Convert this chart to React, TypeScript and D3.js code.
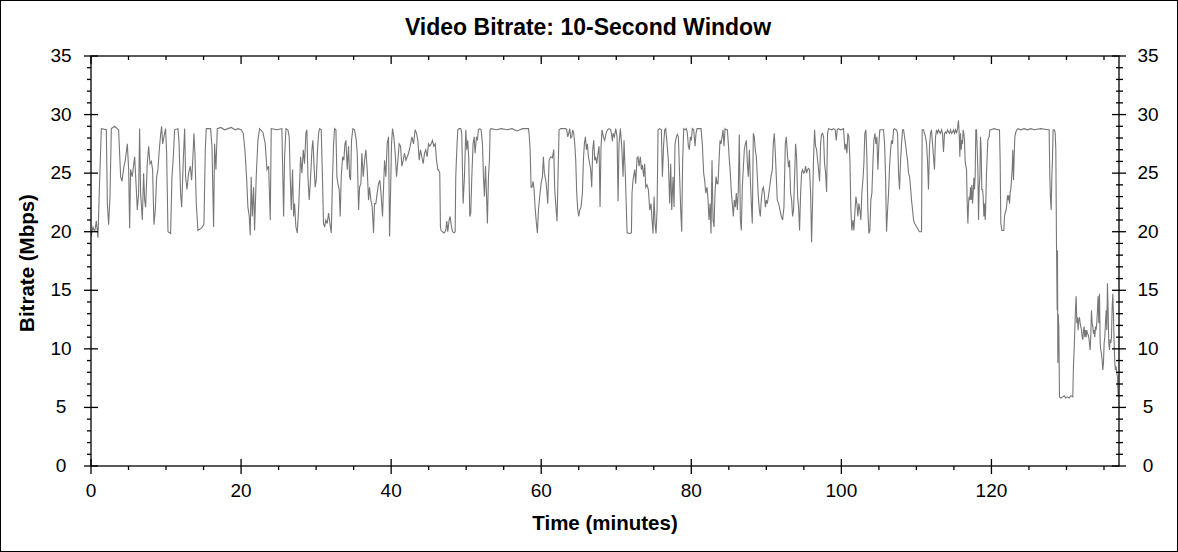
import React, { useEffect, useRef } from "react";
import * as d3 from "d3";

// Axis labels
const xTickValues = [0, 20, 40, 60, 80, 100, 120];
const yTickValues = [0, 5, 10, 15, 20, 25, 30, 35];

// 10-second window bitrate samples: [minutes, Mbps]
const part1: [number, number][] = [
  [0, 19.6], [0.27, 20.4], [0.49, 20.0], [0.71, 20.9], [0.93, 19.5], [1.15, 24.4], [1.38, 28.8],
  [2.04, 28.7], [2.18, 22.4], [2.35, 20.6], [2.53, 23.0], [2.71, 28.8], [3.15, 29.0], [3.68, 28.7],
  [3.95, 24.7], [4.13, 24.3], [4.35, 25.4], [4.57, 26.1], [4.84, 27.5], [5.02, 25.3], [5.15, 20.3],
  [5.28, 25.3], [5.5, 24.7], [5.68, 25.7], [5.82, 26.4], [6.04, 23.6], [6.17, 21.85], [6.35, 23.3],
  [6.48, 28.8], [6.61, 23.3], [6.84, 21.0], [7.01, 25.0], [7.15, 22.7], [7.28, 22.1], [7.5, 25.8],
  [7.68, 27.3], [7.86, 25.8], [8.04, 26.0], [8.21, 25.3], [8.39, 20.6], [8.57, 21.85], [8.75, 24.7],
  [8.92, 25.3], [9.1, 27.0], [9.28, 28.3], [9.41, 29.0], [9.55, 27.5], [9.72, 28.1], [9.94, 28.8],
  [10.08, 26.7], [10.26, 20.0], [10.61, 19.85], [10.79, 24.7], [10.97, 26.4], [11.14, 28.7],
  [11.59, 28.8], [11.72, 27.8], [11.94, 23.3], [12.08, 22.1], [12.3, 26.1], [12.48, 28.8],
  [12.61, 24.7], [12.79, 23.6], [13.01, 25.0], [13.23, 25.6], [13.41, 24.4], [13.54, 25.8],
  [13.72, 28.4], [13.85, 26.7], [14.03, 22.4], [14.25, 20.1], [14.7, 20.3], [15.05, 20.6],
  [15.23, 27.0], [15.36, 28.8], [15.94, 28.8], [16.12, 27.3], [16.34, 20.4], [16.47, 27.5],
  [16.65, 25.3], [16.83, 28.8], [17.3, 28.9], [17.8, 28.7], [18.25, 28.8], [18.7, 28.9], [19.2, 28.7],
  [19.6, 28.8], [20.02, 28.7], [20.29, 28.4], [20.51, 27.0], [20.73, 24.7], [20.91, 22.1],
  [21.09, 21.3], [21.22, 19.7], [21.35, 24.7], [21.49, 21.3], [21.67, 23.8], [21.8, 20.1],
  [22.02, 24.7], [22.24, 27.8], [22.46, 28.8], [22.91, 28.5],
];

const part2: [number, number][] = [
  [23.22, 27.5], [23.45, 25.3], [23.67, 25.6], [23.89, 21.0], [24.02, 28.8], [24.78, 28.7],
  [25.44, 28.8], [25.67, 21.3], [25.8, 26.4], [25.98, 28.8], [26.24, 28.7], [26.42, 28.1],
  [26.55, 24.7], [26.69, 21.85], [26.86, 25.3], [27.0, 21.3], [27.13, 22.4], [27.31, 20.4],
  [27.49, 19.9], [27.66, 21.85], [27.8, 24.1], [27.93, 26.4], [28.11, 25.0], [28.29, 27.0],
  [28.46, 25.8], [28.64, 28.4], [28.77, 28.7], [28.91, 24.7], [29.08, 22.7], [29.22, 24.1],
  [29.44, 27.0], [29.57, 27.8], [29.75, 25.3], [29.88, 23.8], [30.02, 24.4], [30.19, 27.0],
  [30.33, 28.4], [30.46, 28.8], [30.68, 28.7], [30.82, 25.3], [30.99, 20.7], [31.13, 20.4],
  [31.3, 21.0], [31.48, 20.7], [31.66, 21.6], [31.84, 20.7], [32.02, 19.9], [32.19, 24.7],
  [32.33, 27.5], [32.46, 28.8], [32.64, 28.7], [32.77, 24.7], [32.9, 24.1], [33.08, 23.6],
  [33.21, 21.3], [33.35, 24.7], [33.53, 26.4], [33.7, 26.1], [33.84, 27.5], [33.97, 27.8],
  [34.15, 25.3], [34.32, 27.3], [34.46, 24.7], [34.59, 24.4], [34.72, 27.8], [34.9, 28.8],
  [35.12, 28.7], [35.35, 27.8], [35.48, 26.7], [35.66, 21.85], [35.79, 23.8], [35.97, 24.1],
  [36.1, 26.7], [36.28, 24.7], [36.46, 26.1], [36.63, 27.0], [36.81, 25.3], [36.99, 22.7],
  [37.12, 23.8], [37.3, 22.7], [37.48, 22.1], [37.65, 19.9], [37.79, 22.4], [37.96, 22.4],
  [38.14, 23.3], [38.32, 24.1], [38.5, 24.4], [38.68, 23.0], [38.85, 21.3], [38.99, 23.8],
  [39.12, 26.1], [39.3, 24.7], [39.47, 27.5], [39.65, 28.1], [39.79, 19.6], [39.92, 23.3],
  [40.05, 27.5], [40.18, 28.8], [40.36, 28.1], [40.54, 26.7], [40.72, 24.7], [40.9, 26.1],
  [41.07, 27.5], [41.25, 27.3], [41.43, 25.6], [41.61, 26.1], [41.78, 26.7], [41.96, 26.1],
  [42.14, 26.4], [42.32, 26.7], [42.54, 27.3], [42.76, 28.1], [42.98, 27.5], [43.2, 28.7],
  [43.38, 28.4], [43.56, 27.8], [43.74, 26.1], [43.91, 27.0], [44.09, 26.4], [44.27, 25.8],
  [44.45, 26.7], [44.62, 27.0], [44.8, 26.4], [44.98, 27.5], [45.16, 27.3], [45.34, 27.5],
  [45.51, 27.8], [45.69, 27.3], [45.87, 27.5], [46.05, 26.1], [46.22, 25.3],
];

const part3: [number, number][] = [
  [46.31, 25.3], [46.48, 25.0], [46.57, 20.4], [46.66, 20.1], [46.84, 20.0], [47.06, 19.9],
  [47.28, 20.1], [47.42, 20.9], [47.55, 20.0], [47.73, 21.0], [47.86, 21.3], [48.0, 20.6],
  [48.17, 20.0], [48.39, 19.9], [48.53, 20.0], [48.61, 24.7], [48.75, 27.0], [48.88, 28.7],
  [49.06, 28.8], [49.28, 28.8], [49.41, 28.4], [49.59, 22.4], [49.77, 24.7], [49.95, 28.7],
  [50.08, 27.0], [50.21, 27.8], [50.35, 26.1], [50.48, 21.3], [50.61, 21.6], [50.75, 24.7],
  [50.92, 27.5], [51.06, 28.1], [51.19, 26.7], [51.37, 28.1], [51.5, 27.8], [51.63, 28.7],
  [51.81, 28.8], [51.99, 28.7], [52.17, 27.5], [52.3, 24.7], [52.43, 23.0], [52.57, 25.6],
  [52.7, 23.3], [52.83, 20.7], [52.97, 24.7], [53.1, 26.1], [53.19, 28.7], [53.32, 28.8],
  [54.0, 28.7], [54.7, 28.8], [55.4, 28.7], [56.1, 28.8], [56.8, 28.6], [57.5, 28.8], [58.3, 28.8],
  [58.38, 28.4], [58.52, 27.0], [58.65, 23.8], [58.78, 23.8], [58.92, 24.3], [59.05, 23.6],
  [59.18, 22.1], [59.36, 20.7], [59.49, 19.9], [59.63, 21.85], [59.8, 23.0], [59.98, 24.1],
  [60.16, 24.7], [60.29, 26.4], [60.42, 25.0], [60.6, 24.4], [60.74, 23.6], [60.87, 22.4],
  [61.05, 26.1], [61.27, 26.4], [61.49, 26.3], [61.67, 27.0], [61.8, 23.6], [61.93, 22.4],
  [62.11, 20.9], [62.24, 24.7], [62.38, 28.7], [62.6, 28.8], [63.27, 28.8], [63.4, 28.7],
  [63.53, 28.1], [63.67, 28.4], [63.8, 28.8], [63.93, 28.0], [64.07, 28.1], [64.2, 28.7],
  [64.33, 28.4], [64.47, 27.5], [64.6, 26.1], [64.73, 23.3], [64.87, 21.85], [65.0, 21.3],
  [65.13, 21.85], [65.31, 22.1], [65.49, 23.3], [65.62, 26.1], [65.75, 27.5], [65.89, 28.1],
  [66.02, 27.0], [66.15, 27.5], [66.29, 26.4], [66.46, 25.8], [66.6, 25.3], [66.73, 23.8],
  [66.86, 27.0], [67.0, 27.8], [67.13, 26.1], [67.26, 26.4], [67.4, 25.8], [67.57, 26.7],
  [67.71, 27.3], [67.84, 22.1], [67.97, 27.3], [68.11, 28.7], [68.28, 28.1], [68.46, 27.8],
  [68.64, 28.4], [68.82, 28.7], [69.04, 28.8], [69.26, 28.7],
];

const part4: [number, number][] = [
  [69.35, 28.4], [69.49, 27.7], [69.57, 28.4], [69.75, 28.1], [69.93, 28.8], [70.11, 28.1],
  [70.24, 22.6], [70.37, 27.5], [70.55, 28.8], [70.73, 27.3], [70.91, 24.7], [71.04, 27.8],
  [71.13, 26.1], [71.22, 24.7], [71.35, 21.85], [71.44, 19.9], [71.79, 19.85], [72.02, 19.9],
  [72.1, 23.3], [72.24, 24.4], [72.46, 25.3], [72.59, 24.1], [72.77, 26.3], [72.9, 26.4],
  [73.04, 25.6], [73.21, 26.4], [73.35, 25.3], [73.48, 25.7], [73.66, 24.7], [73.79, 25.8],
  [73.93, 23.8], [74.1, 24.0], [74.28, 23.6], [74.46, 21.85], [74.64, 22.4], [74.77, 21.0],
  [74.9, 19.85], [75.04, 23.0], [75.17, 20.7], [75.3, 19.85], [75.44, 21.85], [75.57, 28.7],
  [75.79, 28.8], [76.01, 28.7], [76.15, 24.7], [76.32, 27.5], [76.46, 28.7], [76.59, 28.8],
  [76.77, 27.5], [76.94, 26.1], [77.12, 22.4], [77.26, 25.8], [77.39, 21.85], [77.57, 24.7],
  [77.7, 22.1], [77.83, 27.5], [78.01, 28.1], [78.14, 28.3], [78.28, 28.1], [78.45, 24.7],
  [78.59, 21.85], [78.72, 20.0], [78.85, 26.1], [78.99, 28.8], [79.16, 28.7], [79.34, 28.8],
  [79.48, 28.4], [79.61, 27.3], [79.74, 27.0], [79.88, 28.1], [80.01, 27.8], [80.14, 28.8],
  [80.32, 28.7], [80.5, 27.3], [80.63, 28.4], [80.76, 28.8], [81.12, 28.8], [81.3, 28.8],
  [81.47, 27.5], [81.65, 25.0], [81.78, 24.4], [81.92, 23.3], [82.1, 23.8], [82.23, 22.7],
  [82.36, 21.0], [82.5, 22.4], [82.63, 19.85], [82.76, 26.1], [82.9, 21.0], [83.03, 20.4],
  [83.16, 23.3], [83.3, 24.7], [83.43, 24.1], [83.56, 24.1], [83.7, 26.1], [83.83, 27.8],
  [83.96, 27.5], [84.1, 28.1], [84.23, 28.7], [84.36, 27.3], [84.5, 28.8], [84.67, 28.7],
  [84.81, 28.7], [84.94, 27.5], [85.07, 26.1], [85.2, 25.0], [85.34, 23.3], [85.47, 22.4],
  [85.6, 21.3], [85.74, 22.7], [85.87, 22.1], [86.0, 23.3], [86.14, 21.85], [86.27, 23.6],
  [86.4, 28.3], [86.54, 21.0], [86.67, 20.1], [86.8, 23.8], [86.94, 25.5], [87.07, 27.0],
  [87.2, 27.5], [87.34, 27.8], [87.47, 25.8], [87.6, 24.7], [87.74, 27.0], [87.87, 24.4],
  [88.0, 22.4], [88.13, 20.7], [88.27, 28.4], [88.4, 28.1], [88.53, 27.0], [88.67, 26.4],
  [88.8, 24.7], [88.93, 23.0], [89.07, 21.85], [89.2, 21.3], [89.33, 22.7], [89.47, 23.6],
  [89.6, 23.8], [89.73, 23.3], [89.87, 22.1], [90.0, 22.7], [90.13, 22.4], [90.27, 23.0],
  [90.44, 23.8], [90.62, 24.7], [90.8, 25.3], [90.93, 27.5], [91.06, 28.4], [91.2, 26.7],
  [91.33, 24.7], [91.46, 22.7], [91.64, 22.4], [91.82, 21.85], [92.0, 21.3], [92.17, 21.0],
  [92.35, 22.1], [92.53, 27.5], [92.66, 28.1],
];

const part5: [number, number][] = [
  [92.83, 26.4], [92.97, 25.5], [93.1, 26.1], [93.23, 23.3], [93.37, 22.7], [93.5, 21.3],
  [93.63, 21.85], [93.77, 24.7], [93.9, 27.5], [94.03, 26.4], [94.17, 23.0], [94.3, 22.1],
  [94.43, 20.1], [94.57, 23.3], [94.7, 25.0], [94.83, 25.3], [94.97, 25.0], [95.1, 25.1],
  [95.23, 25.6], [95.36, 25.0], [95.5, 25.3], [95.63, 25.4], [95.76, 25.3], [95.9, 23.3],
  [96.03, 19.1], [96.16, 22.4], [96.3, 26.4], [96.43, 28.7], [96.56, 27.3], [96.7, 27.0],
  [96.83, 26.1], [96.96, 25.3], [97.1, 24.3], [97.23, 27.5], [97.36, 28.3], [97.5, 28.4],
  [97.63, 28.1], [97.76, 25.8], [97.9, 25.0], [98.03, 23.4], [98.16, 28.4], [98.29, 28.8],
  [98.74, 28.7], [98.96, 28.8], [99.18, 28.7], [99.32, 27.8], [99.45, 28.7], [99.58, 28.8],
  [99.94, 28.7], [100.29, 28.8], [100.47, 27.0], [100.6, 27.5], [100.74, 26.7], [100.87, 28.4],
  [101.0, 28.1], [101.14, 26.1], [101.27, 21.85], [101.4, 20.1], [101.54, 21.0], [101.67, 20.1],
  [101.8, 21.6], [101.94, 23.0], [102.07, 22.4], [102.2, 21.3], [102.33, 22.4], [102.47, 21.85],
  [102.6, 21.0], [102.73, 23.3], [102.87, 24.4], [103.0, 25.8], [103.13, 28.4], [103.27, 28.7],
  [103.4, 26.4], [103.53, 21.85], [103.67, 19.85], [103.8, 20.1], [103.93, 22.7], [104.07, 23.3],
  [104.2, 25.8], [104.33, 27.8], [104.47, 28.4], [104.6, 27.5], [104.73, 28.1], [104.87, 25.3],
  [105.0, 27.5], [105.13, 28.7], [105.27, 28.7], [105.44, 28.7], [105.62, 28.7], [105.76, 27.5],
  [105.89, 24.7], [106.02, 20.0], [106.16, 21.85], [106.29, 23.3], [106.42, 25.5], [106.56, 27.0],
  [106.69, 27.8], [106.82, 27.5], [106.96, 28.7], [107.09, 28.8], [107.22, 28.7], [107.35, 28.7],
  [107.49, 28.4], [107.62, 25.0], [107.75, 23.6], [107.89, 26.1], [108.02, 27.5], [108.15, 28.7],
  [108.29, 28.7], [108.42, 28.1], [108.55, 27.5], [108.69, 26.7], [108.82, 26.1], [108.95, 25.0],
  [109.09, 24.7], [109.22, 23.8], [109.35, 22.7], [109.49, 21.85], [109.62, 21.0], [109.75, 20.7],
  [109.88, 20.6], [110.02, 20.4], [110.15, 20.3], [110.29, 20.1], [110.42, 20.0], [110.68, 20.0],
  [110.77, 28.7], [110.95, 28.7], [111.08, 28.4], [111.21, 28.1], [111.35, 27.5], [111.48, 26.1],
  [111.61, 23.6], [111.75, 27.3], [111.88, 28.4], [112.01, 28.7], [112.15, 27.5], [112.28, 26.4],
  [112.41, 25.3], [112.55, 28.1], [112.68, 28.7], [112.81, 28.4], [112.95, 28.7], [113.08, 28.5],
  [113.21, 28.4], [113.35, 28.7], [113.48, 28.4], [113.61, 26.8], [113.75, 28.4], [113.88, 28.5],
  [114.01, 28.4], [114.15, 28.7], [114.28, 28.5], [114.41, 28.4], [114.55, 28.7], [114.68, 28.4],
  [114.81, 28.5], [114.95, 28.7], [115.08, 28.4], [115.21, 28.7], [115.35, 28.4], [115.48, 28.8],
];

const part6: [number, number][] = [
  [115.61, 29.5], [115.7, 28.4], [115.79, 26.4], [115.88, 28.4], [115.97, 27.0], [116.06, 27.8],
  [116.15, 27.5], [116.23, 28.7], [116.32, 28.4], [116.41, 27.8], [116.5, 26.0], [116.59, 25.6],
  [116.68, 25.3], [116.77, 22.4], [116.86, 20.7], [116.95, 22.4], [117.03, 23.0], [117.12, 22.7],
  [117.21, 23.8], [117.3, 22.7], [117.39, 24.0], [117.48, 22.4], [117.57, 23.3], [117.66, 24.6],
  [117.74, 23.6], [117.83, 24.7], [117.92, 28.7], [118.01, 28.7], [118.1, 27.1], [118.19, 25.3],
  [118.28, 21.0], [118.37, 23.8], [118.46, 24.7], [118.54, 28.1], [118.63, 27.0], [118.72, 23.6],
  [118.81, 23.6], [118.9, 23.0], [118.99, 21.3], [119.08, 22.4], [119.17, 21.0], [119.25, 22.4],
  [119.34, 25.0], [119.43, 26.4], [119.52, 27.8], [119.61, 28.0], [119.7, 28.1], [119.79, 28.7],
  [119.92, 28.7], [120.36, 28.8], [120.81, 28.7], [121.07, 28.7], [121.16, 26.1], [121.25, 20.7],
  [121.39, 20.1], [121.52, 20.1], [121.65, 20.1], [121.74, 21.3], [121.83, 21.6], [121.96, 21.85],
  [122.05, 22.4], [122.14, 23.1], [122.23, 22.7], [122.32, 23.1], [122.41, 22.4], [122.5, 23.4],
  [122.58, 23.6], [122.67, 24.4], [122.76, 25.3], [122.85, 27.0], [122.94, 24.4], [123.03, 26.4],
  [123.12, 28.1], [123.25, 28.5], [123.38, 28.7], [123.52, 28.8], [123.92, 28.7], [124.36, 28.8],
  [124.8, 28.7], [125.25, 28.8], [125.69, 28.7], [126.58, 28.8], [127.47, 28.7], [127.69, 28.7],
  [127.78, 24.7], [127.87, 22.7], [127.96, 21.85], [128.05, 24.7], [128.13, 26.1], [128.22, 28.7],
  [128.36, 28.7], [128.49, 28.5], [128.58, 27.0], [128.67, 19.0], [128.76, 13.3], [128.8, 18.4],
  [128.85, 8.8], [128.89, 13.0], [128.98, 11.9], [129.07, 5.9], [129.24, 5.8], [129.5, 5.9],
  [129.69, 6.0], [129.9, 5.8], [130.13, 5.9], [130.35, 5.8], [130.58, 6.0], [130.84, 5.9],
  [130.93, 8.5], [131.02, 9.9], [131.11, 11.6], [131.2, 13.3], [131.29, 14.5], [131.38, 12.2],
  [131.46, 12.7], [131.55, 11.6], [131.64, 12.5], [131.73, 12.7], [131.82, 12.2], [131.91, 11.9],
  [132.0, 11.6], [132.09, 11.0], [132.18, 10.8], [132.27, 11.6], [132.35, 11.9], [132.44, 11.0],
  [132.53, 11.6], [132.62, 11.0], [132.71, 11.6], [132.8, 11.3], [132.89, 11.2], [132.98, 11.0],
  [133.06, 10.5], [133.15, 9.9], [133.24, 11.0], [133.33, 13.3], [133.42, 12.2], [133.51, 11.9],
  [133.6, 11.3], [133.69, 11.6], [133.78, 11.0], [133.86, 11.9], [133.95, 11.6], [134.04, 12.2],
  [134.13, 13.3], [134.22, 14.5], [134.31, 12.2], [134.4, 14.7], [134.49, 10.5], [134.57, 9.9],
  [134.66, 9.6], [134.75, 9.0], [134.84, 8.2], [134.93, 8.8], [135.02, 10.5], [135.11, 11.0],
  [135.2, 12.2], [135.29, 13.3], [135.38, 11.6], [135.46, 15.6], [135.55, 13.3], [135.64, 10.5],
  [135.73, 9.9], [135.82, 10.8], [135.91, 10.5], [136.0, 11.0], [136.09, 13.6], [136.18, 14.7],
  [136.27, 12.7], [136.35, 10.5], [136.44, 8.8], [136.53, 8.2], [136.62, 8.5], [136.71, 7.9],
  [136.8, 7.6], [136.89, 5.9],
];

const bitrate = [...part1, ...part2, ...part3, ...part4, ...part5, ...part6];

const W = 1178;
const H = 552;
const plot = { left: 91, right: 1119, top: 56, bottom: 466 };
const FONT = "'Liberation Sans', Arial, sans-serif";

const BitrateChart: React.FC = () => {
  const svgRef = useRef<SVGSVGElement>(null);

  useEffect(() => {
    if (!svgRef.current) return;
    const svg = d3.select(svgRef.current);
    svg.selectAll("*").remove();

    const x = d3.scaleLinear().domain([0, 137]).range([plot.left, plot.right]);
    const y = d3.scaleLinear().domain([0, 35]).range([plot.bottom, plot.top]);

    // frame around the whole picture
    svg
      .append("rect")
      .attr("x", 0.5)
      .attr("y", 0.5)
      .attr("width", W - 1)
      .attr("height", H - 1)
      .attr("fill", "#fff")
      .attr("stroke", "#000");

    svg
      .append("clipPath")
      .attr("id", "plot-clip")
      .append("rect")
      .attr("x", plot.left)
      .attr("y", plot.top)
      .attr("width", plot.right - plot.left)
      .attr("height", plot.bottom - plot.top);

    // data line
    const line = d3
      .line<[number, number]>()
      .x((d) => x(d[0]))
      .y((d) => y(d[1]));

    svg
      .append("path")
      .datum(bitrate)
      .attr("clip-path", "url(#plot-clip)")
      .attr("d", line)
      .attr("fill", "none")
      .attr("stroke", "#777")
      .attr("stroke-width", 1.1);

    // axes frame
    const axes = svg.append("g").attr("stroke", "#000").attr("stroke-width", 1.3);
    axes
      .append("rect")
      .attr("x", plot.left)
      .attr("y", plot.top)
      .attr("width", plot.right - plot.left)
      .attr("height", plot.bottom - plot.top)
      .attr("fill", "none");

    const tick = (x1: number, y1: number, x2: number, y2: number) =>
      axes.append("line").attr("x1", x1).attr("y1", y1).attr("x2", x2).attr("y2", y2);

    // x ticks: minor every 5 minutes, major every 20
    d3.range(0, 137, 5).forEach((m) => {
      const px = x(m);
      if (m % 20 === 0) {
        tick(px, plot.bottom - 7, px, plot.bottom + 8);
        tick(px, plot.top, px, plot.top + 8);
      } else {
        tick(px, plot.bottom, px, plot.bottom + 4);
        tick(px, plot.top, px, plot.top + 4);
      }
    });

    // y ticks: minor every 1 Mbps, major every 5
    d3.range(0, 36, 1).forEach((v) => {
      const py = y(v);
      if (v % 5 === 0) {
        tick(plot.left - 7, py, plot.left + 7, py);
        tick(plot.right - 7, py, plot.right + 7, py);
      } else {
        tick(plot.left - 4, py, plot.left, py);
        tick(plot.right - 3, py, plot.right + 4, py);
      }
    });

    const labels = svg
      .append("g")
      .attr("font-family", FONT)
      .attr("font-size", 19)
      .attr("fill", "#000")
      .attr("text-anchor", "middle");

    yTickValues.forEach((v) => {
      labels.append("text").attr("x", 61).attr("y", y(v) + 6).text(v);
      labels.append("text").attr("x", 1148).attr("y", y(v) + 6).text(v);
    });

    xTickValues.forEach((m) => {
      labels.append("text").attr("x", x(m)).attr("y", plot.bottom + 31).text(m);
    });

    const titles = svg
      .append("g")
      .attr("font-family", FONT)
      .attr("font-weight", "bold")
      .attr("fill", "#000")
      .attr("text-anchor", "middle");

    titles
      .append("text")
      .attr("x", 588)
      .attr("y", 35)
      .attr("font-size", 23)
      .text("Video Bitrate: 10-Second Window");

    titles
      .append("text")
      .attr("x", (plot.left + plot.right) / 2)
      .attr("y", 530)
      .attr("font-size", 20.5)
      .text("Time (minutes)");

    titles
      .append("text")
      .attr("transform", `translate(34, ${(plot.top + plot.bottom) / 2 + 2}) rotate(-90)`)
      .attr("font-size", 20.5)
      .text("Bitrate (Mbps)");
  }, []);

  return (
    <svg
      ref={svgRef}
      width={W}
      height={H}
      viewBox={`0 0 ${W} ${H}`}
      style={{ position: "absolute", left: 0, top: 0, background: "#fff" }}
    />
  );
};

export default function App() {
  return <BitrateChart />;
}
